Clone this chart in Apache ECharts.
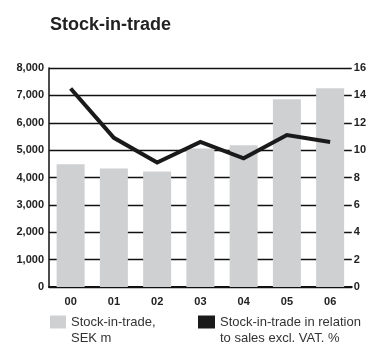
<!DOCTYPE html>
<html>
<head>
<meta charset="utf-8">
<script src="https://cdn.jsdelivr.net/npm/echarts@6/dist/echarts.min.js"></script>
<style>html,body{margin:0;padding:0;background:#fff;}#c{width:369px;height:347px;}</style>
</head>
<body>
<div id="c"></div>
<script>
var categories = ['00', '01', '02', '03', '04', '05', '06'];
var stockValues = [4480, 4330, 4220, 5060, 5180, 6860, 7260];
var ratioValues = [14.5, 10.9, 9.1, 10.6, 9.4, 11.1, 10.6];
var leftTicks = { min: 0, max: 8000, interval: 1000 };
var rightTicks = { min: 0, max: 16, interval: 2 };

var FONT = 'Liberation Sans, Arial, Helvetica, sans-serif';
var legendText = { fontFamily: FONT, fontSize: 13, color: '#333', lineHeight: 16 };
var chart = echarts.init(document.getElementById('c'), null, { renderer: 'canvas' });
chart.setOption({
  animation: false,
  backgroundColor: '#fff',
  title: {
    text: 'Stock-in-trade',
    left: 45, top: 11,
    textStyle: { fontFamily: FONT, fontWeight: 'bold', fontSize: 18, color: '#222' }
  },
  grid: { left: 49, right: 17, top: 68, bottom: 60 },
  legend: [{
    left: 45, top: 293,
    itemWidth: 16, itemHeight: 13, itemGap: 0,
    icon: 'rect',
    data: [{ name: 'Stock-in-trade,\nSEK m' }],
    formatter: function (n) { return ' \n' + n; },
    textStyle: legendText,
    selectedMode: false
  }, {
    left: 193, top: 293,
    itemWidth: 17, itemHeight: 13, itemGap: 0,
    icon: 'rect',
    data: [{ name: 'Stock-in-trade in relation\nto sales excl. VAT. %' }],
    formatter: function (n) { return ' \n' + n; },
    textStyle: legendText,
    selectedMode: false
  }],
  xAxis: {
    type: 'category',
    data: categories,
    axisLine: { lineStyle: { color: '#111', width: 2 } },
    axisTick: { show: false },
    axisLabel: { fontFamily: FONT, fontWeight: 'bold', fontSize: 11, color: '#222', margin: 9 }
  },
  yAxis: [{
    type: 'value',
    min: leftTicks.min, max: leftTicks.max, interval: leftTicks.interval,
    axisLine: { show: true, lineStyle: { color: '#111', width: 1.5 } },
    axisTick: { show: false },
    splitLine: { lineStyle: { color: '#111', width: 1.3 } },
    axisLabel: {
      fontFamily: FONT, fontWeight: 'bold', fontSize: 11, color: '#222', margin: 5,
      formatter: function (v) { return v.toLocaleString('en-US'); }
    }
  }, {
    type: 'value',
    min: rightTicks.min, max: rightTicks.max, interval: rightTicks.interval,
    axisLine: { show: false },
    axisTick: { show: false },
    splitLine: { show: false },
    axisLabel: { fontFamily: FONT, fontWeight: 'bold', fontSize: 11, color: '#222', margin: 2 }
  }],
  series: [{
    name: 'Stock-in-trade,\nSEK m',
    type: 'bar',
    data: stockValues,
    barWidth: 28,
    itemStyle: { color: '#cfd0d2' }
  }, {
    name: 'Stock-in-trade in relation\nto sales excl. VAT. %',
    type: 'line',
    yAxisIndex: 1,
    data: ratioValues,
    symbol: 'none',
    lineStyle: { color: '#1a1a1a', width: 4, join: 'miter' },
    itemStyle: { color: '#1a1a1a' }
  }]
});
</script>
</body>
</html>
